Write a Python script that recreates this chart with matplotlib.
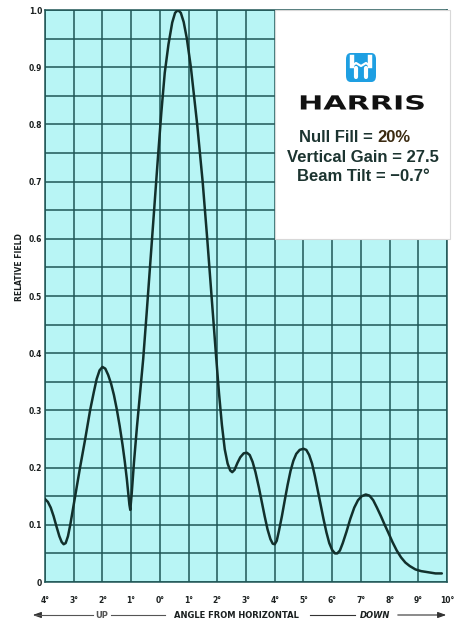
import matplotlib
matplotlib.use("Agg")
import matplotlib.pyplot as plt
from matplotlib.patches import Rectangle, FancyBboxPatch
from matplotlib.patheffects import AbstractPathEffect
from matplotlib.transforms import Affine2D

# elevation pattern (degrees below horizontal, relative field)
angle = [-4.0, -3.9, -3.8, -3.7, -3.6, -3.5, -3.42, -3.35, -3.28, -3.2,
         -3.12, -2.95, -2.78, -2.6, -2.43, -2.3, -2.2, -2.1, -2.0, -1.9,
         -1.8, -1.7, -1.6, -1.5, -1.4, -1.3, -1.22, -1.15, -1.1, -1.06,
         -1.03, -0.98, -0.9, -0.8, -0.69, -0.58, -0.46, -0.33, -0.2, -0.07,
         0.05, 0.17, 0.3, 0.43, 0.53, 0.63, 0.73, 0.83, 0.94, 1.08,
         1.3, 1.49, 1.65, 1.8, 1.95, 2.06, 2.16, 2.26, 2.36, 2.45,
         2.52, 2.6, 2.7, 2.8, 2.92, 3.03, 3.13, 3.23, 3.33, 3.45,
         3.55, 3.65, 3.75, 3.85, 3.93, 4.0, 4.07, 4.15, 4.25, 4.35,
         4.45, 4.55, 4.65, 4.75, 4.87, 5.0, 5.1, 5.2, 5.3, 5.4,
         5.5, 5.6, 5.7, 5.8, 5.9, 6.0, 6.1, 6.18, 6.27, 6.37,
         6.5, 6.63, 6.77, 6.9, 7.03, 7.17, 7.3, 7.43, 7.56, 7.7,
         7.83, 7.95, 8.1, 8.25, 8.4, 8.55, 8.7, 8.9, 9.1, 9.35,
         9.6, 9.82]
field = [0.145, 0.14, 0.13, 0.115, 0.097, 0.08, 0.07, 0.066, 0.068, 0.08,
         0.1, 0.15, 0.2, 0.25, 0.3, 0.332, 0.355, 0.37, 0.376, 0.373,
         0.362, 0.347, 0.327, 0.302, 0.273, 0.24, 0.21, 0.18, 0.155, 0.135,
         0.126, 0.155, 0.21, 0.27, 0.33, 0.39, 0.47, 0.56, 0.65, 0.74,
         0.82, 0.89, 0.94, 0.978, 0.995, 1.0, 0.995, 0.979, 0.95, 0.9,
         0.8, 0.7, 0.6, 0.5, 0.4, 0.33, 0.275, 0.232, 0.207, 0.195,
         0.192, 0.196, 0.208, 0.218, 0.225, 0.226, 0.222, 0.21, 0.192, 0.165,
         0.14, 0.115, 0.092, 0.075, 0.067, 0.066, 0.072, 0.09, 0.115, 0.143,
         0.17, 0.194, 0.212, 0.224, 0.231, 0.233, 0.231, 0.222, 0.207, 0.185,
         0.16, 0.135, 0.11, 0.087, 0.068, 0.056, 0.05, 0.05, 0.055, 0.068,
         0.088, 0.11, 0.13, 0.143, 0.15, 0.153, 0.151, 0.143, 0.13, 0.115,
         0.1, 0.087, 0.07, 0.055, 0.043, 0.034, 0.028, 0.022, 0.019, 0.017,
         0.015, 0.015]

x_ticks = list(range(-4, 11))
x_labels = ["4°", "3°", "2°", "1°", "0°", "1°", "2°", "3°", "4°",
            "5°", "6°", "7°", "8°", "9°", "10°"]
y_ticks = [0.0, 0.1, 0.2, 0.3, 0.4, 0.5, 0.6, 0.7, 0.8, 0.9, 1.0]
y_labels = ["0", "0.1", "0.2", "0.3", "0.4", "0.5", "0.6", "0.7", "0.8", "0.9", "1.0"]

specs = ["Null Fill = ", "20%", "Vertical Gain = 27.5", "Beam Tilt = \u22120.7°"]

W, H = 461, 622
CYAN = "#b8f5f5"
GRID = "#1f5656"
INK = "#1a1f1f"


class Stretch(AbstractPathEffect):
    """widen text horizontally around a fixed x (display pixels)"""
    def __init__(self, sx, cx):
        super().__init__()
        self.sx = sx
        self.cx = cx

    def draw_path(self, renderer, gc, tpath, affine, rgbFace=None):
        extra = Affine2D().translate(-self.cx, 0).scale(self.sx, 1).translate(self.cx, 0)
        renderer.draw_path(gc, tpath, affine + extra, rgbFace)


def fx(px):
    return px / W


def fy(py):
    return 1 - py / H


fig = plt.figure(figsize=(W / 100, H / 100), dpi=100)
fig.patch.set_facecolor("white")
ax = fig.add_axes([fx(45), fy(582), fx(447) - fx(45), fy(10) - fy(582)])
ax.set_facecolor(CYAN)
ax.set_xlim(-4, 10)
ax.set_ylim(0, 1)

ax.set_xticks(x_ticks)
ax.set_xticklabels(x_labels)
ax.set_yticks(y_ticks)
ax.set_yticklabels(y_labels)
ax.set_yticks([v / 20 for v in range(1, 20, 2)], minor=True)
ax.grid(True, which="both", color=GRID, linewidth=1.1)
ax.set_axisbelow(True)
ax.tick_params(which="both", length=0)
ax.tick_params(axis="x", pad=10, labelsize=5.5, labelcolor=INK)
ax.tick_params(axis="y", pad=2, labelsize=5.5, labelcolor=INK)
for lab in ax.get_xticklabels() + ax.get_yticklabels():
    lab.set_fontweight("bold")
for sp in ax.spines.values():
    sp.set_color(GRID)
    sp.set_linewidth(1.1)

ax.plot(angle, field, color="#12302c", linewidth=1.8, zorder=4,
        solid_capstyle="round", solid_joinstyle="round")

# white legend panel in the upper right
ax.add_patch(Rectangle((4, 0.6), 6.1, 0.4, facecolor="white", edgecolor="#d8d8d8",
                       linewidth=0.8, zorder=3, clip_on=False))

# Harris logo (blue tile with white mark)
fig.add_artist(FancyBboxPatch((fx(346), fy(82)), fx(30), fy(53) - fy(82),
                              boxstyle="round,pad=0,rounding_size=0.01",
                              facecolor="#1e9fe2", edgecolor="none", transform=fig.transFigure))
for x0 in (352, 370):
    fig.add_artist(plt.Line2D([fx(x0), fx(x0)], [fy(57), fy(66)], color="white",
                              linewidth=3.2, transform=fig.transFigure))
fig.add_artist(plt.Line2D([fx(352), fx(356), fx(361), fx(366), fx(370)],
                          [fy(66), fy(63), fy(66), fy(63), fy(66)], color="white",
                          linewidth=1.6, transform=fig.transFigure))
for x0 in (356, 366):
    fig.add_artist(plt.Line2D([fx(x0), fx(x0)], [fy(68), fy(77)], color="white",
                              linewidth=3.0, solid_capstyle="round", transform=fig.transFigure))

fig.text(fx(362), fy(104), "HARRIS", ha="center", va="center", fontsize=14,
         fontweight="heavy", color="#111111", family="DejaVu Sans",
         path_effects=[Stretch(1.55, 362)])

t = fig.text(fx(299), fy(137), specs[0], ha="left", va="center", fontsize=12,
             fontweight="bold", color="#1c3430", family="Liberation Sans")
fig.canvas.draw()
bb = t.get_window_extent()
fig.text(bb.x1 / W, fy(137), specs[1], ha="left", va="center", fontsize=12,
         fontweight="bold", color="#3b2a10", family="Liberation Sans")
fig.text(fx(363), fy(157), specs[2], ha="center", va="center", fontsize=12,
         fontweight="bold", color="#1c3430", family="Liberation Sans")
fig.text(fx(363), fy(176), specs[3], ha="center", va="center", fontsize=12,
         fontweight="bold", color="#1c3430", family="Liberation Sans")

# axis titles
fig.text(fx(19), fy(267), "RELATIVE FIELD", rotation=90, ha="center", va="center",
         fontsize=5.5, fontweight="bold", color=INK)
fig.text(fx(236), fy(615), "ANGLE FROM HORIZONTAL", ha="center", va="center",
         fontsize=6, fontweight="bold", color=INK)
fig.text(fx(102), fy(615), "UP", ha="center", va="center", fontsize=6,
         fontweight="bold", color="#555555")
fig.text(fx(375), fy(615), "DOWN", ha="center", va="center", fontsize=6,
         fontweight="bold", style="italic", color=INK)

arrow = dict(arrowstyle="-|>,head_length=0.5,head_width=0.18", color="#333333", linewidth=0.8)
fig.add_artist(plt.Line2D([fx(93), fx(35)], [fy(615), fy(615)], color="#555555", linewidth=0.8))
ax.annotate("", xy=(30, H - 615), xytext=(40, H - 615), xycoords="figure pixels",
            textcoords="figure pixels", arrowprops=arrow)
fig.add_artist(plt.Line2D([fx(111), fx(165)], [fy(615), fy(615)], color="#555555", linewidth=0.8))
fig.add_artist(plt.Line2D([fx(310), fx(355)], [fy(615), fy(615)], color="#333333", linewidth=0.8))
ax.annotate("", xy=(449, H - 615), xytext=(395, H - 615), xycoords="figure pixels",
            textcoords="figure pixels", arrowprops=arrow)

fig.savefig("out.png", dpi=100)
